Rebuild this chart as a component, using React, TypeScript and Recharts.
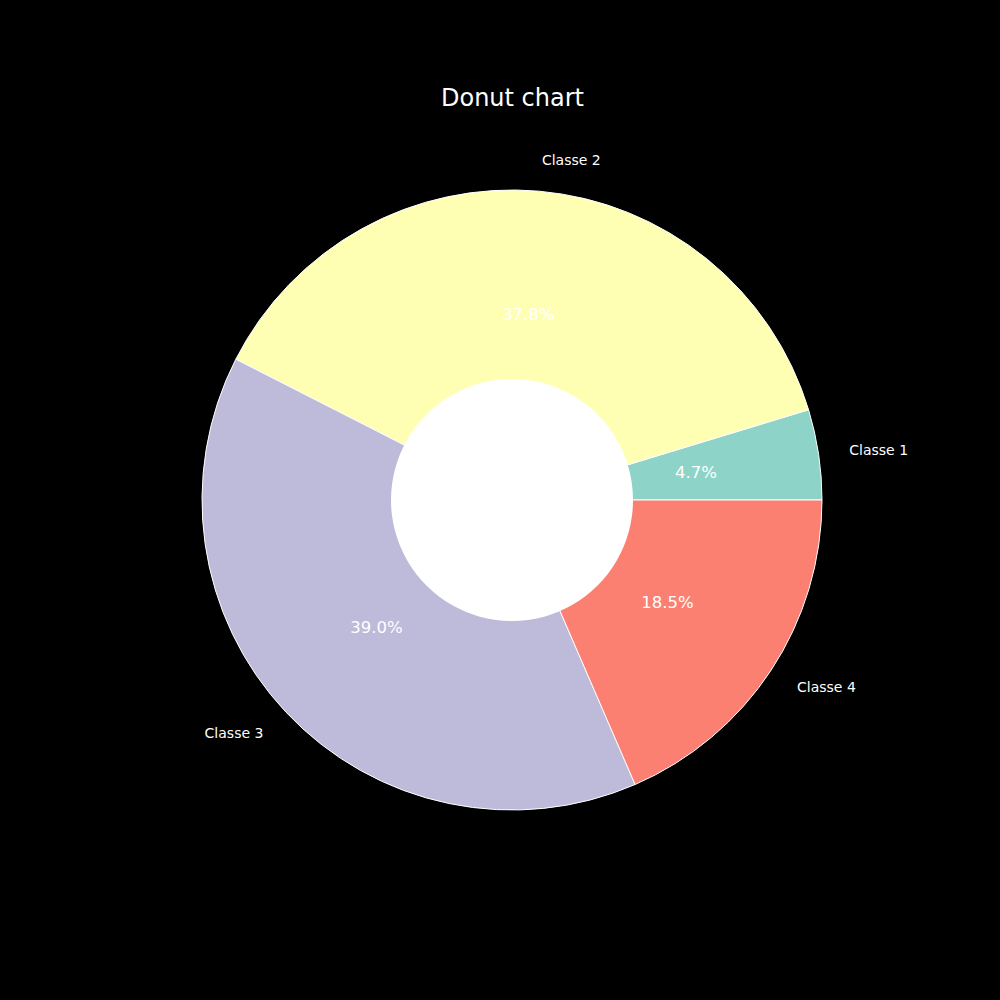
import { PieChart, Pie, Cell } from 'recharts'

const categories = ['Classe 1', 'Classe 2', 'Classe 3', 'Classe 4']
const shares = [4.7, 37.8, 39.0, 18.5]
const COLORS = ['#8dd3c7', '#ffffb3', '#bebada', '#fb8072']

const data = categories.map((name, i) => ({ name, value: shares[i] }))
const hole = [{ name: 'hole', value: 1 }]

const RADIAN = Math.PI / 180
const FONT = 'DejaVu Sans, sans-serif'

function renderLabel(props: any) {
  const { cx, cy, midAngle, outerRadius, name, percent } = props
  const cos = Math.cos(-midAngle * RADIAN)
  const sin = Math.sin(-midAngle * RADIAN)
  // category label outside (1.1 r), percentage inside (0.6 r)
  const lx = cx + outerRadius * 1.1 * cos
  const ly = cy + outerRadius * 1.1 * sin
  const px = cx + outerRadius * 0.6 * cos
  const py = cy + outerRadius * 0.6 * sin
  return (
    <g>
      <text
        x={lx}
        y={ly}
        fill="#fff"
        fontSize={14}
        fontFamily={FONT}
        textAnchor={lx > cx ? 'start' : 'end'}
        dominantBaseline="central"
      >
        {name}
      </text>
      <text
        x={px}
        y={py}
        fill="#fff"
        fontSize={16.5}
        fontFamily={FONT}
        textAnchor="middle"
        dominantBaseline="central"
      >
        {`${(percent * 100).toFixed(1)}%`}
      </text>
    </g>
  )
}

export default function App() {
  return (
    <div style={{ position: 'absolute', left: 0, top: 0, width: 1000, height: 1000, background: '#000' }}>
      <div
        style={{
          position: 'absolute',
          top: 84,
          left: 0,
          width: 1000,
          textAlign: 'center',
          paddingLeft: 25,
          boxSizing: 'border-box',
          color: '#fff',
          fontFamily: FONT,
          fontSize: 24,
        }}
      >
        Donut chart
      </div>
      <PieChart width={1000} height={1000} margin={{ top: 0, right: 0, bottom: 0, left: 0 }}>
        <Pie
          data={data}
          dataKey="value"
          nameKey="name"
          cx={512}
          cy={500}
          outerRadius={310}
          startAngle={0}
          endAngle={360}
          stroke="#fff"
          strokeWidth={1}
          label={renderLabel}
          labelLine={false}
          isAnimationActive={false}
        >
          {data.map((entry, index) => (
            <Cell key={`cell-${index}`} fill={COLORS[index]} />
          ))}
        </Pie>
        <Pie
          data={hole}
          dataKey="value"
          cx={512}
          cy={500}
          outerRadius={121}
          fill="#fff"
          stroke="none"
          isAnimationActive={false}
        />
      </PieChart>
    </div>
  )
}
